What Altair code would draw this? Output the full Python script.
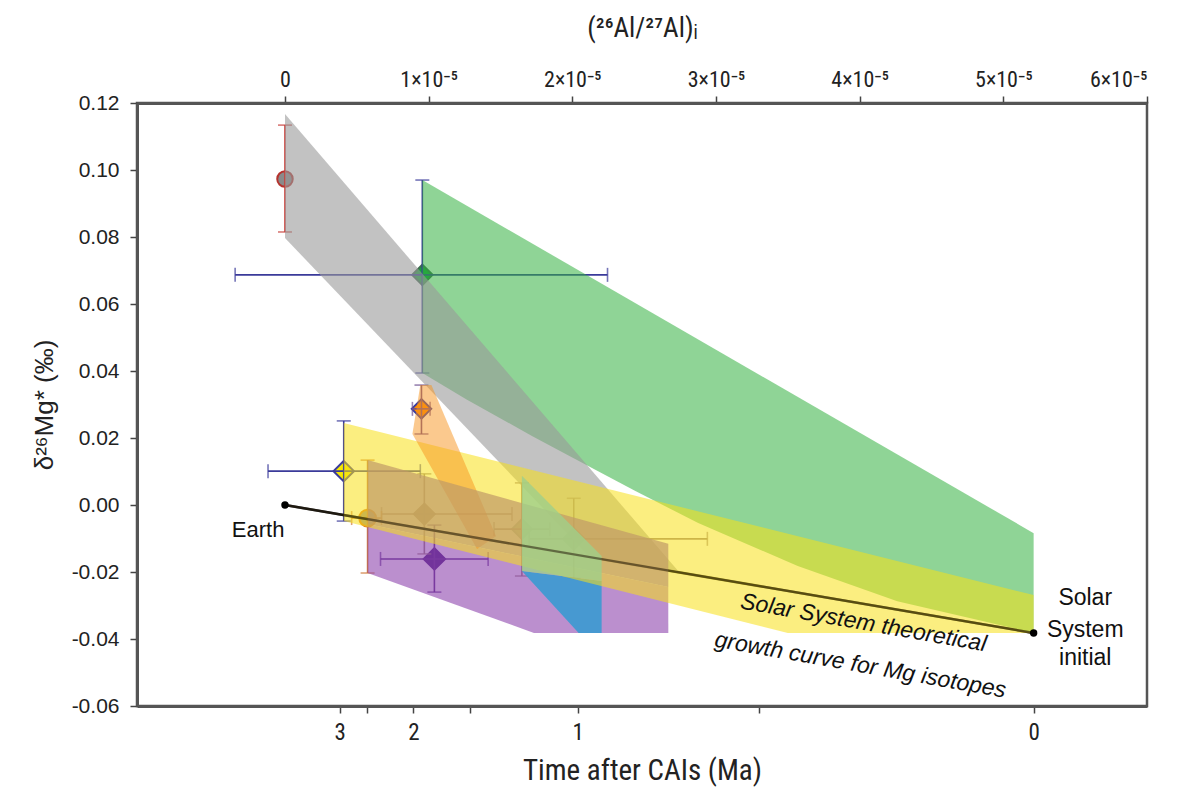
import altair as alt
import pandas as pd

# ---------------- data (x in units of 1e-5 of 26Al/27Al, y = d26Mg* permil) -------------
pt_x    = [0.0,    0.956,  0.950,  0.409,  0.575,  0.970,  1.040,  1.649,  2.010]
pt_y    = [0.0973, 0.0687, 0.0287, 0.0101, -0.0039, -0.0027, -0.0161, -0.0072, -0.0101]
pt_ylo  = [0.0815, 0.0394, 0.0212, -0.0048, -0.0203, -0.0146, -0.0260, -0.0212, -0.0218]
pt_yhi  = [0.1134, 0.0970, 0.0358, 0.0251, 0.0134, 0.0093, -0.0060, 0.0066, 0.0020]
pt_xlo  = [None,   -0.347, 0.887, -0.118, 0.464,  0.672,  0.665,  1.455,  1.700]
pt_xhi  = [None,   2.245,  1.010,  0.942,  0.672,  1.580,  1.414,  1.843,  2.940]
pt_shape = ["circle", "diamond", "diamond", "diamond", "circle", "diamond", "diamond", "diamond", "diamond"]
pt_fill  = ["#8a8a8a", "#17a03a", "#ff8c00", "#f5e800", "#9c8a88", "#a08a80", "#4a1a80", "#a8c4a0", "#98b090"]
pt_edge  = ["#b5332e", "#3e6b4e", "#3c3c9c", "#3c3c9c", "#e07a20", "#a08a80", "#4a1a80", "#98b0a0", "#98b090"]
pt_size  = [240, 420, 380, 420, 280, 440, 460, 400, 460]
err_col  = ["#c8403a", "#3a3a9a", "#6e5090", "#3a3a9a", "#d07a3a", "#9a8080", "#5a2a8a", "#9a8080", "#9a8080"]

growth_x = [0.0, 5.211]
growth_y = [0.0, -0.0382]

purple_x = [0.575, 2.668, 2.668, 1.733, 0.575]
purple_y = [-0.0057, -0.0245, -0.0382, -0.0382, -0.0203]
blue_x = [1.649, 2.204, 2.204, 2.044]
blue_y = [-0.0197, -0.0227, -0.0382, -0.0382]
green_x = [0.956, 5.211, 5.211, 4.262, 3.569, 2.876, 2.439, 2.114, 1.719, 1.261, 0.956]
green_y = [0.0970, -0.0084, -0.0382, -0.0287, -0.0182, -0.0054, 0.0042, 0.0116, 0.0206, 0.0316, 0.0394]
gray_x = [0.0, 2.737, 2.114, 0.0]
gray_y = [0.1167, -0.0197, -0.0152, 0.0797]
yellow_x = [0.409, 5.211, 5.211, 3.500, 0.409]
yellow_y = [0.0245, -0.0269, -0.0382, -0.0382, -0.0048]
orange_x = [0.887, 0.942, 1.019, 1.469, 1.337]
orange_y = [0.0212, 0.0358, 0.0358, -0.0093, -0.0131]
tan_x = [0.575, 2.668, 2.668, 0.575]
tan_y = [0.0134, -0.0116, -0.0245, -0.0057]
lgreen_x = [1.649, 2.204, 2.204, 1.649]
lgreen_y = [0.0087, -0.0152, -0.0227, -0.0197]

top_ticks = [0, 1, 2, 3, 4, 5, 6]
time_tick_pos = [0.381, 0.568, 0.894, 1.289, 2.037, 3.299, 5.211]
time_tick_lab = ["3", "", "2", "", "1", "", "0"]
y_ticks = [-0.06, -0.04, -0.02, 0.0, 0.02, 0.04, 0.06, 0.08, 0.10, 0.12]

# ---------------- styling -------------
SANS = "Liberation Sans"
NARROW = "Liberation Sans Narrow, Roboto Condensed, Liberation Sans"

xscale = alt.Scale(domain=[-1.03, 6.0], nice=False, zero=False)
yscale = alt.Scale(domain=[-0.06, 0.12], nice=False, zero=False)

YAX = alt.Axis(orient="left", values=y_ticks, title="δ²⁶Mg* (‰)",
               labelExpr="replace(format(datum.value, '.2f'), '−', '-')",
               labelFont=SANS, labelFontSize=21, labelPadding=11,
               titleFont=SANS, titleFontSize=26, titlePadding=14, titleFontWeight="normal")


def Y(field):
    return alt.Y(field, scale=yscale, axis=YAX)


NOX = alt.X("x:Q", scale=xscale, axis=None)

# ---------------- points / error bars -------------
pts = pd.DataFrame({"x": pt_x, "y": pt_y, "ylo": pt_ylo, "yhi": pt_yhi,
                    "xlo": pt_xlo, "xhi": pt_xhi, "shape": pt_shape,
                    "fill": pt_fill, "edge": pt_edge, "size": pt_size, "ec": err_col})
hpts = pts.dropna(subset=["xlo"])

vbar = alt.Chart(pts).mark_rule(strokeWidth=1.6).encode(
    x=NOX, y=Y("ylo:Q"), y2="yhi:Q", color=alt.Color("ec:N", scale=None))
vcap_lo = alt.Chart(pts).mark_tick(orient="horizontal", size=14, thickness=1.6).encode(
    x=NOX, y=Y("ylo:Q"), color=alt.Color("ec:N", scale=None))
vcap_hi = alt.Chart(pts).mark_tick(orient="horizontal", size=14, thickness=1.6).encode(
    x=NOX, y=Y("yhi:Q"), color=alt.Color("ec:N", scale=None))

hbar = alt.Chart(hpts).mark_rule(strokeWidth=1.6).encode(
    x=alt.X("xlo:Q", scale=xscale, axis=None), x2="xhi:Q",
    y=Y("y:Q"), color=alt.Color("ec:N", scale=None))
hcap_lo = alt.Chart(hpts).mark_tick(orient="vertical", size=14, thickness=1.6).encode(
    x=alt.X("xlo:Q", scale=xscale, axis=None), y=Y("y:Q"), color=alt.Color("ec:N", scale=None))
hcap_hi = alt.Chart(hpts).mark_tick(orient="vertical", size=14, thickness=1.6).encode(
    x=alt.X("xhi:Q", scale=xscale, axis=None), y=Y("y:Q"), color=alt.Color("ec:N", scale=None))

points = alt.Chart(pts).mark_point(filled=True, opacity=1, strokeWidth=2).encode(
    x=alt.X("x:Q", scale=xscale, axis=alt.Axis(
        orient="top", values=top_ticks, title="(²⁶Al/²⁷Al)ᵢ",
        labelExpr="datum.value == 0 ? '0' : datum.value + '×10⁻⁵'",
        labelFont=NARROW, labelFontSize=22, labelPadding=5,
        titleFont=NARROW, titleFontSize=27, titlePadding=26, titleFontWeight="normal")),
    y=Y("y:Q"),
    shape=alt.Shape("shape:N", scale=None),
    fill=alt.Fill("fill:N", scale=None),
    stroke=alt.Stroke("edge:N", scale=None),
    size=alt.Size("size:Q", scale=None))

# ---------------- growth curve -------------
bottom_expr = " : ".join(
    f"abs(datum.value - {p}) < 0.001 ? '{l}'" for p, l in zip(time_tick_pos, time_tick_lab)) + " : ''"
gdf = pd.DataFrame({"x": growth_x, "y": growth_y})
growth = alt.Chart(gdf).mark_line(color="#111", strokeWidth=2.6).encode(
    x=alt.X("x:Q", scale=xscale, axis=alt.Axis(
        orient="bottom", values=time_tick_pos, labelExpr=bottom_expr,
        title="Time after CAIs (Ma)",
        labelFont=NARROW, labelFontSize=23, labelPadding=8,
        titleFont=NARROW, titleFontSize=29, titlePadding=12, titleFontWeight="normal")),
    y=Y("y:Q"))
growth_top = alt.Chart(gdf).mark_line(color="#2a2010", strokeWidth=2.4, opacity=0.55).encode(x=NOX, y=Y("y:Q"))
gdots = alt.Chart(gdf).mark_point(filled=True, color="#000", size=55, opacity=1).encode(x=NOX, y=Y("y:Q"))

# ---------------- polygons -------------
def poly(xs, ys, color, op):
    df = pd.DataFrame({"x": xs, "y": ys, "i": list(range(len(xs)))})
    return alt.Chart(df).mark_line(
        fill=color, fillOpacity=op, strokeOpacity=0, strokeWidth=0,
        interpolate="linear-closed").encode(x=NOX, y=Y("y:Q"), order=alt.Order("i:Q"))

polys = [
    poly(purple_x, purple_y, "#8e44ad", 0.6),
    poly(blue_x, blue_y, "#3d9ad1", 0.92),
    poly(green_x, green_y, "#33b040", 0.55),
    poly(gray_x, gray_y, "#999999", 0.6),
    poly(yellow_x, yellow_y, "#f7e017", 0.55),
    poly(orange_x, orange_y, "#f7941d", 0.5),
    poly(tan_x, tan_y, "#c09a66", 0.7),
    poly(lgreen_x, lgreen_y, "#9fd08a", 0.8),
]

# ---------------- labels -------------
def label(x, y, text, size, angle=0, italic=False, align="center"):
    df = pd.DataFrame({"x": [x], "y": [y], "t": [text]})
    kw = dict(font=SANS, fontSize=size, color="#111", align=align, baseline="middle", angle=angle)
    if italic:
        kw["fontStyle"] = "italic"
    return alt.Chart(df).mark_text(**kw).encode(x=NOX, y=Y("y:Q"), text="t:N")

texts = [
    label(-0.187, -0.0075, "Earth", 22),
    label(4.026, -0.0352, "Solar System theoretical", 23, angle=10, italic=True),
    label(4.005, -0.0478, "growth curve for Mg isotopes", 23, angle=10, italic=True),
    label(5.57, -0.0278, "Solar", 23),
    label(5.57, -0.0372, "System", 23),
    label(5.57, -0.0458, "initial", 23),
]

chart = alt.layer(
    points, vbar, vcap_lo, vcap_hi, hbar, hcap_lo, hcap_hi, growth,
    *polys, growth_top, gdots, *texts
).resolve_axis(
    x="independent", y="shared"
).properties(
    width=1010, height=603,
    autosize=alt.AutoSizeParams(type="none"),
    padding={"left": 129, "top": 95, "right": 49, "bottom": 82},
).configure_view(
    stroke="#555", strokeWidth=2.5
).configure_axis(
    grid=False, domainColor="#555", domainWidth=3, tickColor="#444",
    tickWidth=1.5, tickSize=7, labelColor="#222", titleColor="#222"
)

chart.save("out.html", embed_options={"renderer": "svg", "actions": False})
